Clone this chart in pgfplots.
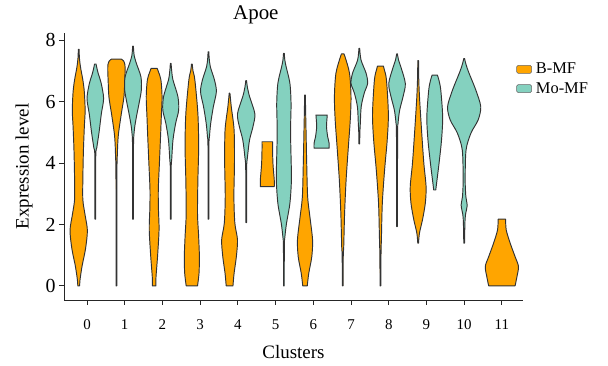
\documentclass[border=0pt]{standalone}
\usepackage{pgfplots}
\pgfplotsset{compat=1.18}
\usepackage{pgfplotstable}
\usepgfplotslibrary{fillbetween}
\usepackage{fontspec}
\setmainfont{Liberation Serif}
\definecolor{bmf}{HTML}{FFA500}
\definecolor{momf}{HTML}{84D1BF}
\definecolor{outl}{HTML}{333333}

% violin outlines: y (expression level) and half width w (cluster units)
\pgfplotstableread[row sep=\\]{y w\\ 0 0.025\\ 0.2 0.035\\ 0.65 0.09\\ 1.2 0.18\\ 1.8 0.23\\ 2.3 0.17\\ 2.8 0.11\\ 3.5 0.11\\ 4.4 0.125\\ 5.2 0.15\\ 5.7 0.17\\ 6.3 0.15\\ 6.7 0.11\\ 7.1 0.05\\ 7.4 0.02\\ 7.7 0.01\\}\oA
\pgfplotstableread[row sep=\\]{y w\\ 2.17 0.01\\ 4.2 0.012\\ 4.5 0.04\\ 5.0 0.10\\ 5.6 0.16\\ 6.1 0.22\\ 6.6 0.155\\ 6.9 0.08\\ 7.1 0.04\\ 7.22 0.02\\}\tA
\pgfplotstableread[row sep=\\]{y w\\ 0 0.01\\ 3.5 0.012\\ 4.3 0.025\\ 4.9 0.05\\ 5.6 0.13\\ 6.16 0.2\\ 6.7 0.22\\ 7.0 0.23\\ 7.2 0.225\\ 7.32 0.19\\ 7.38 0.13\\}\oB
\pgfplotstableread[row sep=\\]{y w\\ 2.17 0.01\\ 4.5 0.012\\ 5.07 0.035\\ 5.5 0.09\\ 5.94 0.16\\ 6.37 0.22\\ 6.8 0.21\\ 7.24 0.09\\ 7.5 0.03\\ 7.8 0.01\\}\tB
\pgfplotstableread[row sep=\\]{y w\\ 0 0.045\\ 0.3 0.05\\ 0.95 0.09\\ 1.82 0.13\\ 2.47 0.115\\ 3.12 0.11\\ 4.0 0.14\\ 4.86 0.17\\ 5.5 0.19\\ 6.16 0.21\\ 6.7 0.18\\ 6.95 0.12\\ 7.08 0.08\\}\oC
\pgfplotstableread[row sep=\\]{y w\\ 2.17 0.01\\ 3.8 0.012\\ 4.1 0.025\\ 4.75 0.06\\ 5.29 0.13\\ 5.72 0.21\\ 6.16 0.19\\ 6.7 0.06\\ 7.0 0.025\\ 7.24 0.01\\}\tC
\pgfplotstableread[row sep=\\]{y w\\ 0 0.15\\ 0.41 0.19\\ 0.95 0.2\\ 1.6 0.18\\ 2.36 0.15\\ 3.45 0.16\\ 4.53 0.18\\ 5.6 0.16\\ 6.7 0.08\\ 7.0 0.03\\ 7.22 0.01\\}\oD
\pgfplotstableread[row sep=\\]{y w\\ 2.17 0.01\\ 4.5 0.012\\ 4.86 0.027\\ 5.29 0.06\\ 5.83 0.13\\ 6.32 0.21\\ 6.7 0.16\\ 7.13 0.05\\ 7.4 0.02\\ 7.62 0.01\\}\tD
\pgfplotstableread[row sep=\\]{y w\\ 0 0.09\\ 0.41 0.12\\ 0.95 0.18\\ 1.5 0.21\\ 2.04 0.14\\ 2.9 0.115\\ 4.0 0.13\\ 5.07 0.12\\ 5.83 0.045\\ 6.27 0.01\\}\oE
\pgfplotstableread[row sep=\\]{y w\\ 2.06 0.01\\ 3.8 0.012\\ 4.2 0.035\\ 4.75 0.09\\ 5.18 0.18\\ 5.6 0.23\\ 6.16 0.09\\ 6.45 0.035\\ 6.68 0.01\\}\tE
\pgfplotstableread[row sep=\\]{y w\\ 3.23 0.185\\ 3.45 0.185\\ 3.66 0.17\\ 3.99 0.15\\ 4.42 0.14\\ 4.69 0.14\\}\oF
\pgfplotstableread[row sep=\\]{y w\\ 0 0.01\\ 1.3 0.012\\ 1.6 0.027\\ 2.04 0.07\\ 2.69 0.16\\ 3.45 0.2\\ 4.2 0.19\\ 4.75 0.18\\ 5.29 0.18\\ 5.94 0.19\\ 6.59 0.16\\ 7.13 0.06\\ 7.35 0.025\\ 7.57 0.01\\}\tF
\pgfplotstableread[row sep=\\]{y w\\ 0 0.06\\ 0.41 0.1\\ 0.95 0.18\\ 1.5 0.2\\ 2.25 0.13\\ 2.9 0.07\\ 4.0 0.045\\ 5.07 0.027\\ 5.8 0.015\\ 6.21 0.01\\}\oG
\pgfplotstableread[row sep=\\]{y w\\ 4.48 0.2\\ 4.64 0.2\\ 4.86 0.16\\ 5.18 0.13\\ 5.4 0.14\\ 5.56 0.15\\}\tG
\pgfplotstableread[row sep=\\]{y w\\ 0 0.01\\ 1.0 0.015\\ 1.28 0.027\\ 2.36 0.05\\ 3.45 0.09\\ 4.53 0.15\\ 5.4 0.2\\ 6.16 0.22\\ 6.92 0.18\\ 7.46 0.06\\ 7.55 0.03\\}\oH
\pgfplotstableread[row sep=\\]{y w\\ 4.62 0.01\\ 5.0 0.015\\ 5.29 0.027\\ 5.83 0.05\\ 6.27 0.13\\ 6.59 0.22\\ 6.92 0.18\\ 7.35 0.045\\ 7.73 0.01\\}\tH
\pgfplotstableread[row sep=\\]{y w\\ 0 0.01\\ 1.0 0.015\\ 1.6 0.027\\ 2.69 0.05\\ 3.77 0.11\\ 4.75 0.18\\ 5.6 0.21\\ 6.7 0.16\\ 7.05 0.1\\ 7.15 0.08\\}\oI
\pgfplotstableread[row sep=\\]{y w\\ 1.93 0.01\\ 4.9 0.015\\ 5.29 0.027\\ 5.72 0.07\\ 6.16 0.16\\ 6.59 0.22\\ 7.13 0.1\\ 7.35 0.04\\ 7.55 0.01\\}\tI
\pgfplotstableread[row sep=\\]{y w\\ 1.39 0.01\\ 1.72 0.035\\ 2.15 0.115\\ 2.69 0.19\\ 3.23 0.21\\ 4.0 0.15\\ 5.07 0.09\\ 6.16 0.035\\ 6.8 0.015\\ 7.33 0.01\\}\oJ
\pgfplotstableread[row sep=\\]{y w\\ 3.12 0.027\\ 3.45 0.06\\ 4.0 0.115\\ 4.75 0.18\\ 5.5 0.21\\ 6.37 0.16\\ 6.7 0.11\\ 6.86 0.07\\}\tJ
\pgfplotstableread[row sep=\\]{y w\\ 1.39 0.01\\ 2.04 0.02\\ 2.31 0.035\\ 2.63 0.08\\ 2.9 0.045\\ 3.45 0.027\\ 4.42 0.05\\ 4.97 0.18\\ 5.4 0.37\\ 5.83 0.44\\ 6.37 0.31\\ 6.92 0.13\\ 7.2 0.05\\ 7.4 0.01\\}\tK
\pgfplotstableread[row sep=\\]{y w\\ 0 0.35\\ 0.3 0.4\\ 0.63 0.44\\ 0.95 0.35\\ 1.39 0.22\\ 1.82 0.115\\ 2.17 0.1\\}\oL

\newcommand{\violin}[4]{%
  \addplot[draw=none, smooth, forget plot, name path=R#1] table[x expr={#2+\thisrow{w}}, y=y] {#4};
  \addplot[draw=none, smooth, forget plot, name path=L#1] table[x expr={#2-\thisrow{w}}, y=y] {#4};
  \addplot[fill=#3, draw=outl, line width=0.95bp, line join=round, forget plot] fill between[of=R#1 and L#1, reverse=true];
}

\begin{document}
\begin{tikzpicture}
\begin{axis}[
  name=ax, scale only axis, width=459bp, height=267bp,
  xmin=-0.61, xmax=11.56, ymin=-0.46, ymax=8.23,
  axis x line=bottom, axis y line=left,
  axis line style={-, line width=0.9bp, black!85},
  tick style={line width=0.9bp, black!85},
  tick align=outside, major tick length=5bp,
  xtick={0,1,...,11}, ytick={0,2,4,6,8},
  /pgf/number format/assume math mode=true,
  xticklabel style={font=\fontsize{15}{15}\selectfont, yshift=-11bp},
  yticklabel style={font=\fontsize{20}{20}\selectfont},
  xlabel={Clusters}, ylabel={Expression level},
  label style={font=\fontsize{19}{19}\selectfont},
  xlabel style={yshift=-9bp},
  ylabel style={yshift=6bp},
  title={Apoe}, title style={font=\fontsize{21}{21}\selectfont, at={(0.418,1)}},
  legend style={at={(0.985,0.895)}, anchor=north west, draw=none, fill=none,
    font=\fontsize{16.5}{16.5}\selectfont, row sep=3bp, inner sep=0pt,
    nodes={inner xsep=4bp}},
  legend cell align=left,
  legend image code/.code={\draw[#1, rounded corners=1.5bp] (0bp,-4bp) rectangle (15bp,4bp);},
]
\addlegendimage{fill=bmf, draw=gray!80!black, line width=0.6bp}
\addlegendentry{B-MF}
\addlegendimage{fill=momf, draw=gray!80!black, line width=0.6bp}
\addlegendentry{Mo-MF}

\violin{a}{-0.22}{bmf}{\oA}
\violin{b}{0.22}{momf}{\tA}
\violin{c}{0.78}{bmf}{\oB}
\violin{d}{1.22}{momf}{\tB}
\violin{e}{1.78}{bmf}{\oC}
\violin{f}{2.22}{momf}{\tC}
\violin{g}{2.78}{bmf}{\oD}
\violin{h}{3.22}{momf}{\tD}
\violin{i}{3.78}{bmf}{\oE}
\violin{j}{4.22}{momf}{\tE}
\violin{k}{4.78}{bmf}{\oF}
\violin{l}{5.22}{momf}{\tF}
\violin{m}{5.78}{bmf}{\oG}
\violin{n}{6.22}{momf}{\tG}
\violin{o}{6.78}{bmf}{\oH}
\violin{p}{7.22}{momf}{\tH}
\violin{q}{7.78}{bmf}{\oI}
\violin{r}{8.22}{momf}{\tI}
\violin{s}{8.78}{bmf}{\oJ}
\violin{t}{9.22}{momf}{\tJ}
\violin{u}{10}{momf}{\tK}
\violin{v}{11}{bmf}{\oL}
\end{axis}
\pgfresetboundingbox
\path[use as bounding box] ([shift={(-64bp,-66bp)}]ax.south west) rectangle ([shift={(85bp,33bp)}]ax.north east);
\end{tikzpicture}
\end{document}
